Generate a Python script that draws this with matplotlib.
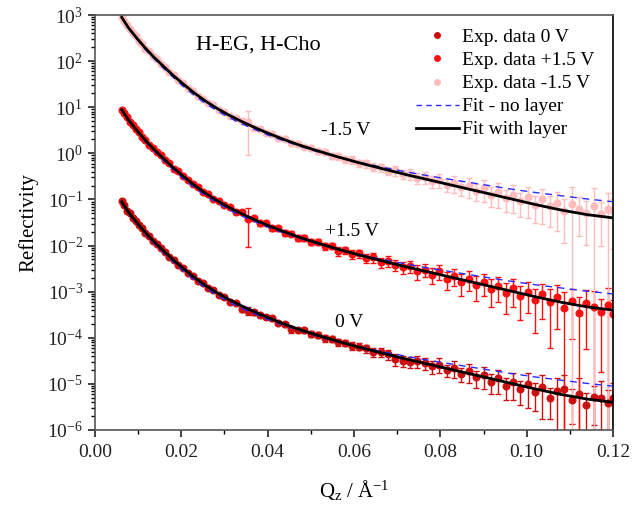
import numpy as np
import matplotlib
matplotlib.use('Agg')
import matplotlib.pyplot as plt
from matplotlib.lines import Line2D
from matplotlib.ticker import MultipleLocator, LogLocator, NullFormatter

plt.rcParams['font.family'] = ['Liberation Serif', 'DejaVu Serif']
plt.rcParams['mathtext.fontset'] = 'custom'
plt.rcParams['mathtext.rm'] = 'Liberation Serif'
plt.rcParams['mathtext.it'] = 'Liberation Serif:italic'

# Q grid shared by the three measurements (1/A)
q = [0.0062, 0.0068, 0.0074, 0.0080, 0.0087, 0.0094, 0.0101, 0.0109, 0.0117, 0.0125,
     0.0134, 0.0143, 0.0152, 0.0162, 0.0172, 0.0182, 0.0193, 0.0204, 0.0215, 0.0226,
     0.0238, 0.0250, 0.0262, 0.0274, 0.0287, 0.0300, 0.0313, 0.0326, 0.0340, 0.0354,
     0.0368, 0.0382, 0.0396, 0.0410, 0.0425, 0.0440, 0.0455, 0.0470, 0.0485, 0.0500,
     0.0516, 0.0532, 0.0548, 0.0564, 0.0580, 0.0596, 0.0612, 0.0628, 0.0645, 0.0662,
     0.0679, 0.0696, 0.0713, 0.0730, 0.0747, 0.0764, 0.0781, 0.0798, 0.0815, 0.0832,
     0.0849, 0.0866, 0.0883, 0.0900, 0.0917, 0.0934, 0.0951, 0.0968, 0.0985, 0.1002,
     0.1019, 0.1036, 0.1053, 0.1070, 0.1087, 0.1104, 0.1121, 0.1138, 0.1155, 0.1172,
     0.1189, 0.1200]

# log10 reflectivity
logr_0v = [-1.04, -1.13, -1.24, -1.30, -1.40, -1.46, -1.56, -1.62, -1.73, -1.79,
           -1.90, -1.96, -2.06, -2.13, -2.24, -2.31, -2.42, -2.48, -2.60, -2.65,
           -2.76, -2.82, -2.93, -2.96, -3.07, -3.11, -3.22, -3.24, -3.38, -3.42,
           -3.45, -3.50, -3.55, -3.58, -3.67, -3.71, -3.82, -3.83, -3.84, -3.91,
           -3.93, -4.01, -4.03, -4.10, -4.11, -4.17, -4.19, -4.23, -4.30, -4.31,
           -4.36, -4.47, -4.50, -4.52, -4.50, -4.55, -4.62, -4.58, -4.70, -4.66,
           -4.78, -4.73, -4.86, -4.80, -4.95, -4.88, -5.05, -4.96, -5.12, -5.00,
           -5.18, -5.06, -5.30, -5.15, -5.12, -5.35, -5.22, -5.45, -5.28, -5.31,
           -5.42, -5.30]
logr_p15 = [0.94, 0.87, 0.78, 0.68, 0.62, 0.52, 0.46, 0.36, 0.29, 0.19,
            0.12, 0.02, -0.04, -0.15, -0.22, -0.33, -0.39, -0.50, -0.57, -0.67,
            -0.73, -0.84, -0.89, -0.99, -1.04, -1.13, -1.17, -1.27, -1.28, -1.42,
            -1.40, -1.52, -1.51, -1.62, -1.63, -1.72, -1.74, -1.83, -1.83, -1.92,
            -1.92, -2.02, -2.01, -2.12, -2.10, -2.18, -2.17, -2.28, -2.25, -2.36,
            -2.33, -2.42, -2.47, -2.45, -2.56, -2.52, -2.63, -2.56, -2.72, -2.65,
            -2.80, -2.72, -2.86, -2.79, -2.94, -2.87, -3.02, -2.93, -3.10, -3.00,
            -3.19, -3.06, -3.22, -3.12, -3.36, -3.20, -3.47, -3.25, -3.33, -3.45,
            -3.30, -3.48]
logr_m15 = [2.96, 2.86, 2.78, 2.69, 2.60, 2.54, 2.44, 2.38, 2.27, 2.21,
            2.10, 2.04, 1.94, 1.87, 1.76, 1.69, 1.59, 1.52, 1.41, 1.35,
            1.25, 1.18, 1.09, 1.04, 0.94, 0.90, 0.81, 0.77, 0.70, 0.67,
            0.55, 0.53, 0.45, 0.42, 0.34, 0.32, 0.23, 0.21, 0.14, 0.12,
            0.04, 0.03, -0.05, -0.06, -0.13, -0.14, -0.21, -0.22, -0.29, -0.30,
            -0.38, -0.37, -0.45, -0.44, -0.53, -0.51, -0.60, -0.57, -0.68, -0.64,
            -0.74, -0.70, -0.82, -0.76, -0.90, -0.84, -0.97, -0.90, -1.04, -0.95,
            -1.12, -1.00, -1.15, -1.08, -1.25, -1.10, -1.20, -1.30, -1.15, -1.32,
            -1.20, -1.25]

# relative errors (dR/R)
err_0v = [0.02] * 20 + [0.04, 0.05, 0.04, 0.06, 0.05, 0.06, 0.07, 0.06,
          0.15, 0.2, 0.12, 0.1, 0.1, 0.12, 0.1, 0.12, 0.18, 0.12, 0.12, 0.14,
          0.14, 0.16, 0.15, 0.18, 0.16, 0.2, 0.18, 0.2, 0.22, 0.2, 0.24, 0.28, 0.25, 0.28, 0.3,
          0.3, 0.32, 0.35, 0.3, 0.4, 0.35, 0.45, 0.4, 0.5, 0.45, 0.55, 0.5, 0.6, 0.55, 0.7,
          0.6, 0.8, 0.65, 0.9, 1.1, 0.7, 1.2, 0.8, 0.75, 1.3, 0.9, 1.1]
err_p15 = [0.02] * 20 + [0.04, 0.05, 0.05, 0.06, 0.05, 0.07, 0.06, 0.08,
           0.1, 0.75, 0.1, 0.12, 0.1, 0.12, 0.12, 0.14, 0.12, 0.15, 0.14, 0.16,
           0.15, 0.18, 0.16, 0.2, 0.18, 0.22, 0.2, 0.22, 0.25, 0.24, 0.28, 0.26, 0.3, 0.3, 0.35,
           0.32, 0.38, 0.35, 0.42, 0.4, 0.5, 0.45, 0.55, 0.5, 0.6, 0.55, 0.65, 0.6, 0.7, 0.65,
           0.8, 0.7, 0.9, 0.8, 1.2, 0.85, 1.3, 0.9, 1.2, 0.95, 1.4, 1.0]
err_m15 = [0.03] * 20 + [0.04, 0.05, 0.04, 0.06, 0.05, 0.06, 0.06, 0.08,
           0.1, 0.8, 0.1, 0.12, 0.1, 0.12, 0.1, 0.12, 0.1, 0.14, 0.12, 0.14,
           0.12, 0.15, 0.14, 0.16, 0.15, 0.18, 0.16, 0.2, 0.18, 0.2, 0.2, 0.24, 0.22, 0.26, 0.25,
           0.3, 0.28, 0.34, 0.3, 0.4, 0.35, 0.45, 0.4, 0.5, 0.45, 0.55, 0.5, 0.6, 0.55, 0.65,
           0.6, 0.7, 0.65, 0.75, 0.8, 1.3, 0.75, 0.8, 1.5, 0.8, 1.2, 0.85]

# model curves (log10 R for the 0 V set), other sets offset in decades
q_fit = [0.0062, 0.0077, 0.0095, 0.0115, 0.0135, 0.0155, 0.0180, 0.0205, 0.0230, 0.0255,
         0.0280, 0.0310, 0.0340, 0.0370, 0.0400, 0.0435, 0.0470, 0.0510, 0.0560, 0.0610,
         0.0660, 0.0720, 0.0780, 0.0840, 0.0900, 0.0960, 0.1020, 0.1080, 0.1140, 0.1200]
fit_layer = [-1.05, -1.27, -1.48, -1.70, -1.90, -2.08, -2.30, -2.50, -2.69, -2.86,
             -3.01, -3.17, -3.31, -3.44, -3.56, -3.69, -3.81, -3.93, -4.07, -4.20,
             -4.32, -4.46, -4.59, -4.72, -4.85, -4.98, -5.11, -5.23, -5.33, -5.40]
fit_nolayer = [-1.05, -1.28, -1.50, -1.73, -1.93, -2.12, -2.34, -2.55, -2.74, -2.91,
               -3.06, -3.22, -3.36, -3.48, -3.60, -3.72, -3.83, -3.95, -4.08, -4.19,
               -4.29, -4.40, -4.50, -4.59, -4.68, -4.77, -4.85, -4.92, -4.99, -5.05]
offsets = [0, 2, 4]

labels = ['Exp. data 0 V', 'Exp. data +1.5 V', 'Exp. data -1.5 V']
colors = ['#cc1010', '#ff1010', '#ffbcbc']

fig = plt.figure(figsize=(6.34, 5.12), dpi=100)
ax = fig.add_axes([0.1498, 0.1602, 0.8171, 0.8105])

q = np.array(q)
for logr, err, col in zip([logr_0v, logr_p15, logr_m15], [err_0v, err_p15, err_m15], colors):
    r = 10 ** np.array(logr)
    e = np.array(err) * r
    lo = np.minimum(e, r * 0.99999)
    ax.errorbar(q, r, yerr=[lo, e], fmt='o', color=col, ms=4.8, mec=col,
                elinewidth=1.0, capsize=2, capthick=1.0, zorder=2)

for off in offsets:
    ax.plot(q_fit, 10 ** (np.array(fit_nolayer) + off), color='#2b2bff', lw=1.0,
            dashes=(5, 4), zorder=3)
    ax.plot(q_fit, 10 ** (np.array(fit_layer) + off), color='black', lw=2.0, zorder=4)

ax.set_yscale('log')
ax.set_xlim(0, 0.12)
ax.set_ylim(1e-6, 1e3)
ax.xaxis.set_major_locator(MultipleLocator(0.02))
ax.xaxis.set_minor_locator(MultipleLocator(0.01))
ax.xaxis.set_major_formatter(matplotlib.ticker.FormatStrFormatter('%.2f'))
ax.yaxis.set_major_locator(LogLocator(base=10, numticks=20))
ax.yaxis.set_minor_locator(LogLocator(base=10, subs=np.arange(2, 10), numticks=20))
ax.yaxis.set_minor_formatter(NullFormatter())
ax.tick_params(which='major', direction='out', length=5, width=1.2, labelsize=14,
               colors='#222222', top=False, right=False)
ax.tick_params(which='minor', direction='out', length=3, width=1.0, top=False, right=False)
ax.tick_params(axis='x', pad=5)
for s in ax.spines.values():
    s.set_color('#555555')
    s.set_linewidth(1.2)
ax.spines['right'].set_color('black')

ax.set_ylabel('Reflectivity', fontsize=15, labelpad=6)
ax.set_xlabel(r'Q$_\mathrm{z}$ / Å$^{\mathrm{-1}}$', fontsize=15, labelpad=12)

ax.text(0.0235, 2.2e2, 'H-EG, H-Cho', fontsize=16, ha='left', va='center')
ax.text(0.0580, 3.2, '-1.5 V', fontsize=14, ha='center', va='center')
ax.text(0.0595, 2.0e-2, '+1.5 V', fontsize=14, ha='center', va='center')
ax.text(0.0590, 2.1e-4, '0 V', fontsize=14, ha='center', va='center')

handles = [Line2D([], [], ls='none', marker='o', ms=4, color=c) for c in colors]
handles += [Line2D([], [], color='#2b2bff', lw=1.0, dashes=(4, 3)),
            Line2D([], [], color='black', lw=2.0)]
leg = ax.legend(handles, labels + ['Fit - no layer', 'Fit with layer'],
                loc='upper right', bbox_to_anchor=(0.99, 1.0), frameon=False,
                fontsize=14, handlelength=2.2, handletextpad=0.15,
                labelspacing=0.28, borderaxespad=0.3)

fig.savefig('out.png', dpi=100)
